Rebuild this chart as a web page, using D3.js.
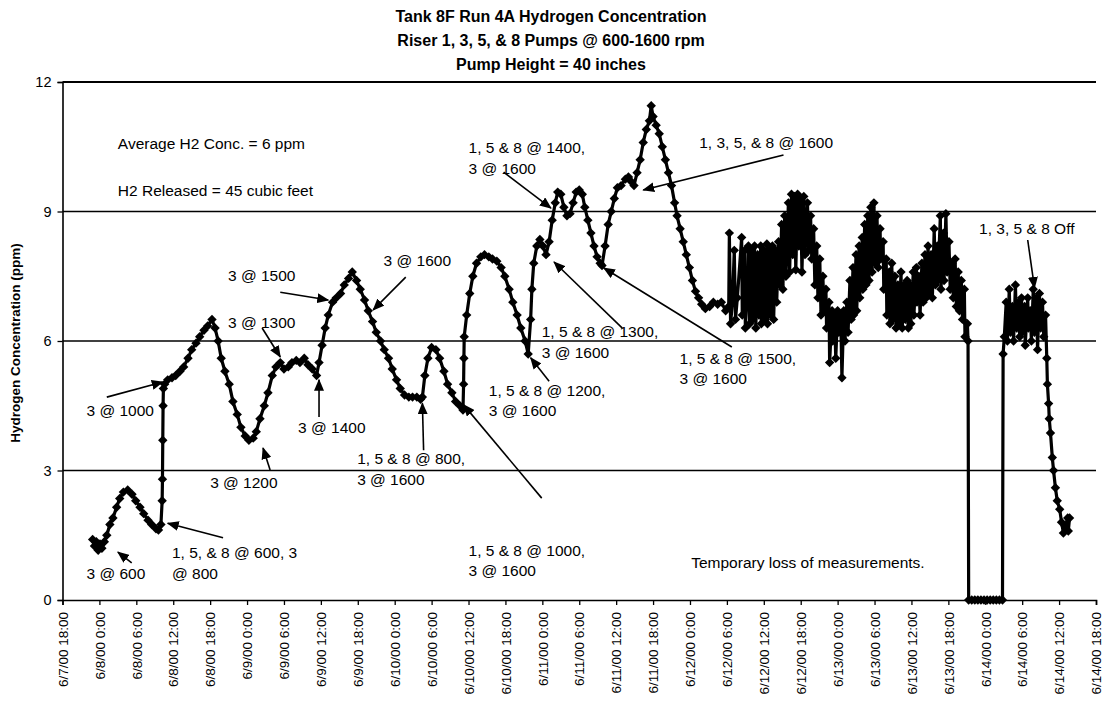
<!DOCTYPE html>
<html>
<head>
<meta charset="utf-8">
<script src="https://cdn.jsdelivr.net/npm/d3@7"></script>
<style>
  body { margin: 0; background: #fff; }
  svg { display: block; }
  text { font-family: "Liberation Sans", Arial, Helvetica, sans-serif; fill: #000; }
</style>
</head>
<body>
<svg id="chart" width="1103" height="715"></svg>
<script>
// ---- chart text ----
const titleLines = [
  "Tank 8F Run 4A Hydrogen Concentration",
  "Riser 1, 3, 5, & 8 Pumps @ 600-1600 rpm",
  "Pump Height = 40 inches"
];
const yAxisTitle = "Hydrogen Concentration (ppm)";
const yTicks = [0, 3, 6, 9, 12];
const xTickHours = 6;                          // one tick every 6 hours
const runStart = Date.UTC(2000, 5, 7, 18);     // 6/7/00 18:00
const runSpanHours = 168;                      // through 6/14/00 18:00

// ---- hydrogen readings: [hours after 6/7/00 18:00, ppm] ----
const readings = [
  // 6/7 night – 3 @ 600
  [4.9, 1.4], [5.2, 1.25], [5.5, 1.35], [5.8, 1.15], [6.1, 1.3], [6.4, 1.2], [6.8, 1.35],
  [7.2, 1.5], [7.7, 1.75], [8.2, 1.9], [8.8, 2.15], [9.3, 2.35], [9.9, 2.5], [10.6, 2.55],
  [11.3, 2.45], [11.9, 2.3], [12.6, 2.15], [13.2, 2.0], [13.9, 1.85], [14.5, 1.75],
  [15.2, 1.65], [15.6, 1.62], [16.0, 1.75],
  // pumps 1,5,8 started
  [16.2, 2.3], [16.25, 2.8], [16.3, 3.7], [16.35, 4.5], [16.4, 4.9],
  [16.6, 5.0], [17.1, 5.1], [17.8, 5.15], [18.4, 5.2], [19.1, 5.3], [19.7, 5.4], [20.4, 5.6],
  [21.0, 5.8], [21.7, 5.95], [22.3, 6.1], [23.0, 6.25], [23.6, 6.35], [24.3, 6.5],
  [24.8, 6.3], [25.3, 6.0], [25.8, 5.6], [26.4, 5.3], [27.1, 5.0], [27.7, 4.6], [28.4, 4.3],
  [29.0, 4.0], [29.7, 3.8], [30.3, 3.7], [31.0, 3.75], [31.5, 3.9], [32.1, 4.2], [32.8, 4.5],
  [33.4, 4.8], [34.1, 5.2], [34.7, 5.4], [35.4, 5.5], [36.0, 5.35], [36.7, 5.4], [37.3, 5.5],
  [38.0, 5.55], [38.6, 5.5], [39.3, 5.6], [39.9, 5.45], [40.6, 5.35], [41.3, 5.2],
  [41.7, 5.5], [42.2, 5.9], [42.7, 6.3], [43.2, 6.6], [43.9, 6.9], [44.5, 7.0], [45.2, 7.1],
  [45.8, 7.3], [46.5, 7.45], [47.1, 7.6], [47.8, 7.4], [48.4, 7.2], [49.1, 6.95], [49.7, 6.7],
  [50.4, 6.45], [51.0, 6.2], [51.7, 6.0], [52.3, 5.8], [53.0, 5.6], [53.6, 5.35], [54.3, 5.1],
  [54.9, 4.9], [55.6, 4.75], [56.3, 4.7], [56.9, 4.7], [57.6, 4.7], [58.2, 4.65], [58.5, 4.7],
  [58.9, 5.2], [59.4, 5.6], [60.0, 5.85], [60.7, 5.8], [61.3, 5.6], [62.0, 5.3], [62.6, 5.0],
  [63.3, 4.8], [63.9, 4.6], [64.6, 4.5], [65.1, 4.4],
  [65.2, 5.0], [65.25, 5.6], [65.3, 6.1], [65.7, 6.6], [66.2, 7.1], [66.7, 7.5], [67.3, 7.8],
  [68.0, 7.95], [68.6, 8.0], [69.3, 7.95], [69.9, 7.9], [70.6, 7.85], [71.3, 7.7], [71.9, 7.5],
  [72.6, 7.2], [73.2, 6.9], [73.9, 6.6], [74.5, 6.3], [75.2, 6.0], [75.7, 5.7],
  [76.1, 6.5], [76.3, 7.2], [76.6, 7.8], [77.1, 8.2], [77.6, 8.35], [78.1, 8.2], [78.6, 8.0],
  [79.1, 8.3], [79.6, 8.8], [80.1, 9.2], [80.5, 9.45], [81.0, 9.4], [81.5, 9.1], [82.0, 8.9],
  [82.5, 8.95], [83.0, 9.2], [83.5, 9.45], [84.0, 9.5], [84.5, 9.4], [84.9, 9.1], [85.4, 8.8],
  [85.9, 8.5], [86.4, 8.2], [86.9, 7.95], [87.4, 7.8], [87.7, 7.75], [88.2, 8.2], [88.7, 8.7],
  [89.2, 9.0], [89.7, 9.3], [90.2, 9.55], [90.8, 9.6], [91.5, 9.75], [92.0, 9.8], [92.4, 9.7],
  [92.9, 9.6], [93.4, 9.9], [93.9, 10.2], [94.4, 10.6], [94.9, 10.9], [95.4, 11.1],
  [95.7, 11.45], [96.0, 11.2], [96.5, 11.0], [97.0, 10.8], [97.5, 10.5], [98.0, 10.2],
  [98.5, 9.9], [99.0, 9.6], [99.5, 9.2], [99.9, 8.9], [100.4, 8.6], [100.9, 8.3], [101.4, 8.0],
  [101.9, 7.7], [102.4, 7.4], [102.9, 7.15], [103.4, 7.0], [103.9, 6.85], [104.5, 6.75],
  [105.2, 6.8], [105.8, 6.9], [106.5, 6.85], [107.1, 6.9], [107.8, 6.7],
  // 6/12 – 6/13: unsteady readings
  [108.3, 6.8], [108.4, 8.5], [108.6, 6.4], [108.9, 6.9], [109.2, 8.1], [109.4, 6.5],
  [109.7, 7.0], [110.4, 8.4], [110.5, 6.6], [110.9, 8.1], [111.0, 6.3], [111.4, 7.4],
  [111.5, 8.2], [111.7, 6.4], [112.0, 8.1], [112.2, 6.5], [112.5, 8.2], [112.7, 6.3],
  [113.0, 8.0], [113.2, 6.6], [113.5, 8.2], [113.6, 6.4], [114.0, 8.1], [114.1, 6.5],
  [114.5, 8.25], [114.6, 6.4], [114.9, 8.1], [115.1, 6.6], [115.4, 8.2], [115.6, 6.5],
  [115.9, 8.1], [116.1, 6.9], [116.4, 8.3], [116.6, 7.3], [116.9, 8.7], [117.1, 7.2],
  [117.4, 8.9], [117.6, 7.5], [118.0, 9.2], [118.2, 7.6], [118.5, 9.4], [118.7, 8.0],
  [119.0, 9.35], [119.2, 7.65], [119.5, 9.4], [119.7, 8.2], [120.0, 9.3], [120.2, 7.6],
  [120.5, 9.35], [120.7, 8.0], [121.1, 9.2], [121.3, 8.1], [121.6, 8.9], [121.8, 7.9],
  [122.1, 8.6], [122.3, 7.3], [122.6, 8.2], [122.8, 7.0], [123.1, 7.9], [123.3, 6.6],
  [123.6, 7.5], [123.8, 6.7], [124.1, 7.2], [124.2, 6.3], [124.6, 6.9], [124.7, 5.5],
  [125.1, 6.7], [125.2, 6.0], [125.5, 6.6], [125.7, 5.6], [126.0, 6.7], [126.2, 6.2],
  [126.5, 6.6], [126.7, 5.15], [127.0, 6.7], [127.2, 6.0], [127.5, 6.9], [127.7, 6.2],
  [128.0, 7.4], [128.2, 6.5], [128.5, 7.7], [128.6, 6.6], [129.0, 8.0], [129.1, 6.7],
  [129.5, 8.2], [129.6, 7.0], [130.0, 8.4], [130.1, 7.2], [130.4, 8.7], [130.6, 7.3],
  [130.9, 8.9], [131.1, 7.4], [131.4, 9.1], [131.6, 7.6], [131.9, 9.2], [132.1, 7.8],
  [132.4, 8.9], [132.6, 7.7], [132.9, 8.6], [133.0, 7.9], [133.4, 8.3], [133.5, 7.2],
  [133.9, 7.9], [134.0, 6.6], [134.4, 7.6], [134.5, 6.4], [134.8, 7.8], [135.0, 6.5],
  [135.3, 7.5], [135.5, 6.3], [135.8, 7.3], [136.0, 6.4], [136.3, 7.6], [136.5, 6.3],
  [136.8, 7.3], [137.0, 6.5], [137.3, 7.4], [137.5, 6.3], [137.8, 7.3], [137.9, 6.4],
  [138.3, 7.6], [138.4, 6.6], [138.8, 7.7], [138.9, 6.9], [139.2, 7.5], [139.4, 6.6],
  [139.7, 7.8], [139.9, 6.9], [140.2, 8.0], [140.4, 7.0], [140.7, 8.2], [140.9, 7.1],
  [141.2, 8.0], [141.4, 7.0], [141.7, 8.6], [141.9, 7.3], [142.2, 8.2], [142.3, 7.4],
  [142.7, 8.9], [142.8, 7.2], [143.2, 8.5], [143.3, 7.4], [143.6, 8.95], [143.8, 7.6],
  [144.1, 8.3], [144.3, 7.2], [144.6, 7.8], [144.8, 7.0], [145.1, 7.9], [145.3, 6.8],
  [145.6, 7.6], [145.8, 6.7], [146.1, 7.4], [146.3, 6.5], [146.6, 7.2], [146.7, 6.1],
  [147.1, 6.4], [147.2, 6.0],
  // instrument dropout
  [147.3, 0], [147.8, 0], [148.3, 0], [148.8, 0], [149.3, 0], [149.8, 0], [150.3, 0],
  [150.8, 0], [151.3, 0], [151.8, 0], [152.3, 0], [152.8, 0],
  // 6/14 – pumps then off
  [152.9, 5.7], [153.1, 6.1], [153.4, 6.9], [153.6, 6.0], [153.9, 7.2], [154.1, 6.2],
  [154.4, 6.8], [154.6, 6.0], [154.9, 7.3], [155.1, 6.3], [155.4, 6.9], [155.6, 6.1],
  [155.9, 7.0], [156.0, 6.2], [156.4, 6.8], [156.5, 5.9], [156.9, 7.0], [157.0, 6.3],
  [157.3, 6.7], [157.5, 6.0], [157.8, 7.2], [158.0, 6.2], [158.3, 7.0], [158.5, 5.8],
  [158.8, 7.1], [159.0, 6.3], [159.3, 6.9], [159.5, 6.1], [159.8, 6.6], [160.0, 5.6],
  [160.1, 5.0], [160.3, 4.55], [160.4, 4.2], [160.6, 3.87], [160.9, 3.3], [161.1, 3.0],
  [161.4, 2.6], [161.7, 2.3], [162.1, 2.1], [162.4, 1.8], [162.7, 1.55], [163.0, 1.7],
  [163.4, 1.9], [163.5, 1.6], [163.7, 1.9]
];

// ---- annotations: text at [hours, ppm] (left, first baseline); arrow tail -> head ----
const notes = [
  { lines: ["Average H2 Conc. = 6 ppm"], at: [9.0, 10.45] },
  { lines: ["H2 Released = 45 cubic feet"], at: [9.0, 9.36] },
  { lines: ["3 @ 1000"], at: [3.9, 4.26], tail: [7.2, 4.70], head: [16.3, 5.05] },
  { lines: ["3 @ 600"], at: [3.9, 0.49], tail: [11.25, 0.86], head: [9.0, 1.11] },
  { lines: ["1, 5, & 8 @ 600, 3", "@ 800"], at: [17.8, 0.97], tail: [26.1, 1.44], head: [17.1, 1.78] },
  { lines: ["3 @ 1200"], at: [24.0, 2.59], tail: [33.75, 3.01], head: [32.6, 3.52] },
  { lines: ["3 @ 1300"], at: [26.9, 6.30], tail: [32.45, 6.30], head: [35.4, 5.63] },
  { lines: ["3 @ 1500"], at: [26.9, 7.39], tail: [35.4, 7.13], head: [43.2, 6.95] },
  { lines: ["3 @ 1400"], at: [38.3, 3.87], tail: [41.7, 4.24], head: [41.7, 5.10] },
  { lines: ["3 @ 1600"], at: [52.2, 7.74], tail: [55.8, 7.48], head: [50.5, 6.72] },
  { lines: ["1, 5 & 8 @ 800,", "3 @ 1600"], at: [47.9, 3.15], tail: [58.7, 3.47], head: [58.5, 4.56] },
  { lines: ["1, 5 & 8 @ 1000,", "3 @ 1600"], at: [66.0, 1.02], tail: [77.9, 2.36], head: [65.2, 4.52] },
  { lines: ["1, 5 & 8 @ 1200,", "3 @ 1600"], at: [69.3, 4.73], tail: [79.1, 5.07], head: [76.1, 5.61] },
  { lines: ["1, 5 & 8 @ 1300,", "3 @ 1600"], at: [77.9, 6.09], tail: [91.0, 6.30], head: [79.9, 7.83] },
  { lines: ["1, 5 & 8 @ 1400,", "3 @ 1600"], at: [66.0, 10.35], tail: [71.7, 9.91], head: [79.4, 9.08] },
  { lines: ["1, 3, 5, & 8 @ 1600"], at: [103.5, 10.47], tail: [117.2, 10.31], head: [94.4, 9.50] },
  { lines: ["1, 5 & 8 @ 1500,", "3 @ 1600"], at: [100.3, 5.47], tail: [108.8, 5.86], head: [88.0, 7.69] },
  { lines: ["1, 3, 5 & 8 Off"], at: [149.0, 8.48], tail: [156.9, 8.34], head: [158.0, 7.23] },
  { lines: ["Temporary loss of measurements."], at: [102.2, 0.74] }
];

// ---- layout ----
const plot = { left: 62.5, right: 1096, top: 82, bottom: 600 };
const hourMs = 3600 * 1000;
const toTime = h => new Date(runStart + h * hourMs);

const svg = d3.select("#chart");

const x = d3.scaleUtc()
  .domain([toTime(0), toTime(runSpanHours)])
  .range([plot.left, plot.right]);
const y = d3.scaleLinear().domain([0, 12]).range([plot.bottom, plot.top]);

// title
svg.append("g").selectAll("text").data(titleLines).join("text")
  .attr("x", 551).attr("y", (d, i) => 22 + i * 24)
  .attr("text-anchor", "middle")
  .style("font-weight", "bold").style("font-size", "16px")
  .text(d => d);

// horizontal gridlines (3, 6, 9, 12)
svg.append("g").selectAll("line").data(yTicks.filter(v => v > 0)).join("line")
  .attr("x1", plot.left).attr("x2", plot.right)
  .attr("y1", d => y(d)).attr("y2", d => y(d))
  .attr("stroke", "#000").attr("stroke-width", d => d === 12 ? 1.8 : 1.3);

// y axis
const yAxis = d3.axisLeft(y).tickValues(yTicks).tickSize(5).tickPadding(6).tickFormat(d3.format("d"));
const gy = svg.append("g").attr("transform", `translate(${plot.left},0)`).call(yAxis);
gy.select(".domain").attr("stroke", "#000").attr("stroke-width", 1.6);
gy.selectAll(".tick line").attr("stroke", "#000").attr("stroke-width", 1.3);
gy.selectAll(".tick text").style("font-size", "14.5px").style("font-family", "Liberation Sans, Arial, sans-serif");

// x axis
const xAxis = d3.axisBottom(x)
  .ticks(d3.utcHour.every(xTickHours))
  .tickSize(5)
  .tickFormat(d3.utcFormat("%-m/%-d/%y %-H:%M"));
const gx = svg.append("g").attr("transform", `translate(0,${plot.bottom})`).call(xAxis);
gx.select(".domain").attr("stroke", "#000").attr("stroke-width", 1.6);
gx.selectAll(".tick line").attr("stroke", "#000").attr("stroke-width", 1.3);
gx.selectAll(".tick text")
  .style("font-size", "13.5px").style("font-family", "Liberation Sans, Arial, sans-serif")
  .attr("text-anchor", "end")
  .attr("transform", "rotate(-90)")
  .attr("x", -12).attr("y", 0).attr("dy", "0.35em");

// y axis title
svg.append("text")
  .attr("transform", `translate(20,${(plot.top + plot.bottom) / 2 + 2}) rotate(-90)`)
  .attr("text-anchor", "middle")
  .style("font-weight", "bold").style("font-size", "13.5px")
  .text(yAxisTitle);

// data line + diamond markers
const line = d3.line().x(d => x(toTime(d[0]))).y(d => y(d[1]));
svg.append("path").datum(readings)
  .attr("d", line)
  .attr("fill", "none").attr("stroke", "#000")
  .attr("stroke-width", 3.2).attr("stroke-linejoin", "round");

const r = 4.7;
const diamond = `M0,${-r}L${r},0L0,${r}L${-r},0Z`;
svg.append("g").selectAll("path").data(readings).join("path")
  .attr("transform", d => `translate(${x(toTime(d[0]))},${y(d[1])})`)
  .attr("d", diamond).attr("fill", "#000");

// arrowhead
svg.append("defs").append("marker")
  .attr("id", "arrow").attr("viewBox", "0 0 12 10")
  .attr("refX", 11).attr("refY", 5)
  .attr("markerWidth", 12).attr("markerHeight", 10)
  .attr("markerUnits", "userSpaceOnUse")
  .attr("orient", "auto")
  .append("path").attr("d", "M0,0L12,5L0,10Z").attr("fill", "#000");

const px = p => [x(toTime(p[0])), y(p[1])];

// annotation arrows
svg.append("g").selectAll("line").data(notes.filter(n => n.tail)).join("line")
  .attr("x1", d => px(d.tail)[0]).attr("y1", d => px(d.tail)[1])
  .attr("x2", d => px(d.head)[0]).attr("y2", d => px(d.head)[1])
  .attr("stroke", "#000").attr("stroke-width", 1.6)
  .attr("marker-end", "url(#arrow)");

// annotation text
const noteG = svg.append("g").selectAll("text").data(notes).join("text")
  .attr("x", d => px(d.at)[0]).attr("y", d => px(d.at)[1])
  .style("font-size", "15.5px");
noteG.selectAll("tspan").data(d => d.lines.map((t, i) => ({ t, i, x: px(d.at)[0] }))).join("tspan")
  .attr("x", d => d.x).attr("dy", d => d.i === 0 ? 0 : 20.5)
  .text(d => d.t);
</script>
</body>
</html>
